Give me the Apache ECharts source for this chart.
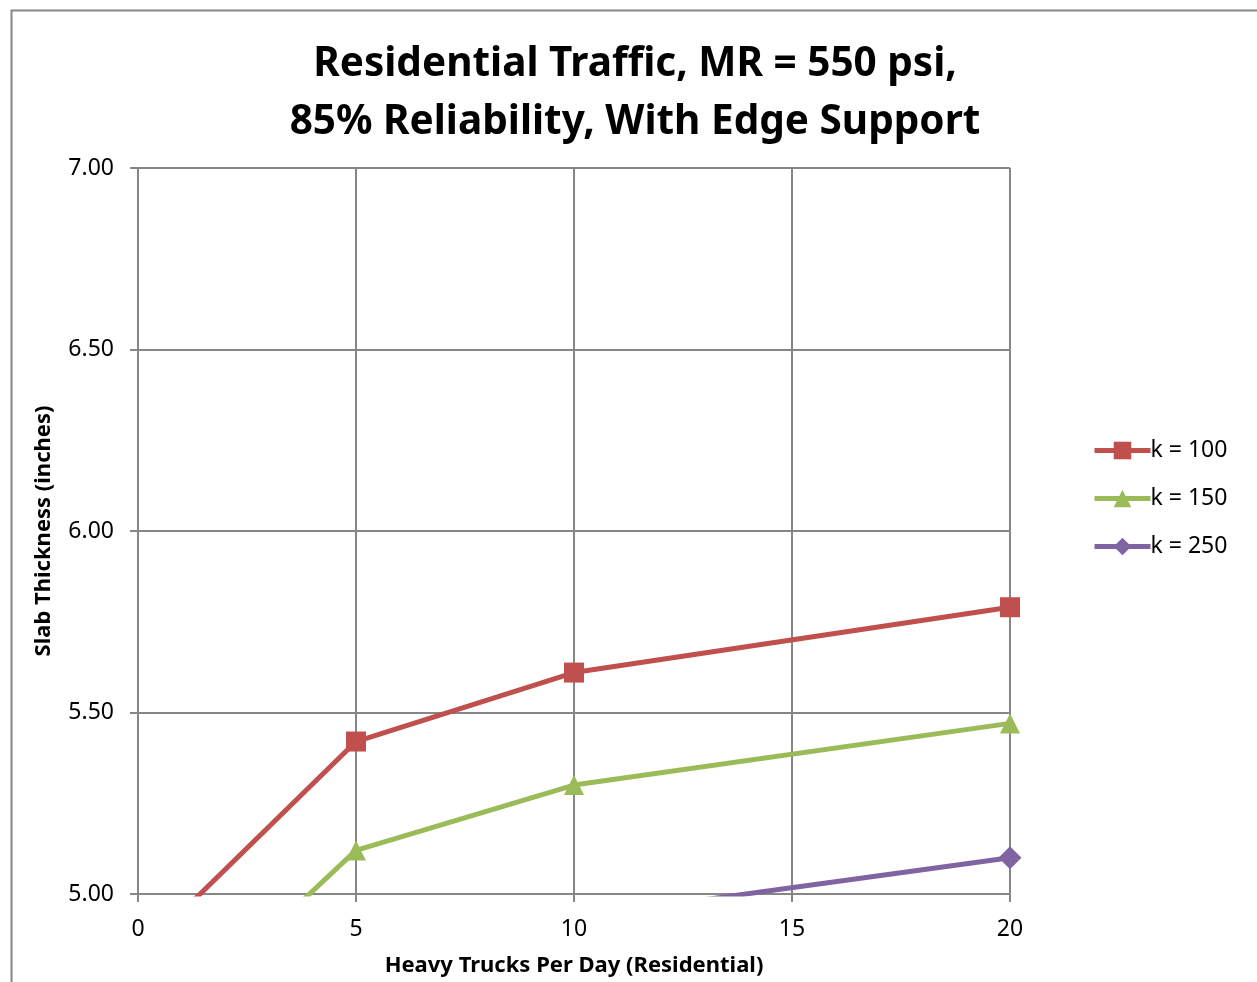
<!DOCTYPE html>
<html>
<head>
<meta charset="utf-8">
<title>Residential Traffic Slab Thickness</title>
<script src="https://cdn.jsdelivr.net/npm/echarts@6/dist/echarts.min.js"></script>
<style>
  html, body { margin: 0; padding: 0; background: #fff; }
  #chart { width: 1257px; height: 982px; }
</style>
</head>
<body>
<div id="chart"></div>
<script>
// Heavy trucks per day (x) and required slab thickness in inches (y) per subgrade k-value
const trucksPerDay = [1, 5, 10, 20];
const k100 = [4.95, 5.42, 5.61, 5.79];
const k150 = [4.67, 5.12, 5.30, 5.47];
const k250 = [4.60, 4.80, 4.935, 5.10];

const seriesNames = ['k = 100', 'k = 150', 'k = 250'];
const seriesColors = ['#C0504D', '#9BBB59', '#8064A2'];
const seriesSymbols = ['rect', 'triangle', 'diamond'];
const seriesSymbolSizes = [20, 20, 23];
const seriesValues = [k100, k150, k250];

const yTicks = { min: 5, max: 7, interval: 0.5 };
const xTicks = { min: 0, max: 20, interval: 5 };

const FONT = '"Noto Sans", "Open Sans", sans-serif';
const GRID_GRAY = '#868686';

const chart = echarts.init(document.getElementById('chart'), null, { renderer: 'canvas' });

const series = seriesValues.map((vals, i) => ({
  name: seriesNames[i],
  type: 'line',
  data: trucksPerDay.map((x, j) => [x, vals[j]]),
  clip: true,
  symbol: seriesSymbols[i],
  symbolSize: seriesSymbolSizes[i],
  showAllSymbol: true,
  lineStyle: { color: seriesColors[i], width: 5 },
  itemStyle: { color: seriesColors[i] },
  emphasis: { disabled: true },
  animation: false
}));

chart.setOption({
  backgroundColor: '#ffffff',
  animation: false,
  title: {
    text: 'Residential Traffic, MR = 550 psi,\n85% Reliability, With Edge Support',
    left: 630,
    textAlign: 'center',
    top: 30,
    textStyle: {
      fontFamily: FONT,
      fontWeight: 'bold',
      fontSize: 40.5,
      lineHeight: 58,
      color: '#000'
    }
  },
  graphic: [{
    type: 'rect',
    shape: { x: 11.5, y: 10.5, width: 1400, height: 1100 },
    style: { fill: 'none', stroke: GRID_GRAY, lineWidth: 2 },
    silent: true,
    z: -1
  }],
  legend: {
    orient: 'vertical',
    left: 1087,
    top: 434,
    itemWidth: 56,
    itemHeight: 22,
    itemGap: 25,
    lineStyle: { width: 5 },
    textStyle: { fontFamily: FONT, fontSize: 23, color: '#000', padding: [0, 0, 0, -5] },
    data: seriesNames
  },
  grid: { left: 138, top: 168, right: 247, bottom: 86, containLabel: false },
  xAxis: {
    type: 'value',
    min: xTicks.min,
    max: xTicks.max,
    interval: xTicks.interval,
    name: 'Heavy Trucks Per Day (Residential)',
    nameLocation: 'middle',
    nameGap: 61,
    nameTextStyle: { fontFamily: FONT, fontWeight: 'bold', fontSize: 22, color: '#000' },
    axisLine: { show: true, lineStyle: { color: GRID_GRAY, width: 2 } },
    axisTick: { show: true, length: 8, inside: false, lineStyle: { color: GRID_GRAY, width: 2 } },
    axisLabel: { margin: 24, fontFamily: FONT, fontSize: 23, color: '#000' },
    splitLine: { show: true, lineStyle: { color: GRID_GRAY, width: 2 } }
  },
  yAxis: {
    type: 'value',
    min: yTicks.min,
    max: yTicks.max,
    interval: yTicks.interval,
    name: 'Slab Thickness (inches)',
    nameLocation: 'middle',
    nameGap: 83,
    nameTextStyle: { fontFamily: FONT, fontWeight: 'bold', fontSize: 22, color: '#000' },
    axisLine: { show: true, lineStyle: { color: GRID_GRAY, width: 2 } },
    axisTick: { show: true, length: 8, inside: false, lineStyle: { color: GRID_GRAY, width: 2 } },
    axisLabel: {
      margin: 24,
      fontFamily: FONT,
      fontSize: 23,
      color: '#000',
      formatter: v => v.toFixed(2)
    },
    splitLine: { show: true, lineStyle: { color: GRID_GRAY, width: 2 } }
  },
  series: series
});
</script>
</body>
</html>
